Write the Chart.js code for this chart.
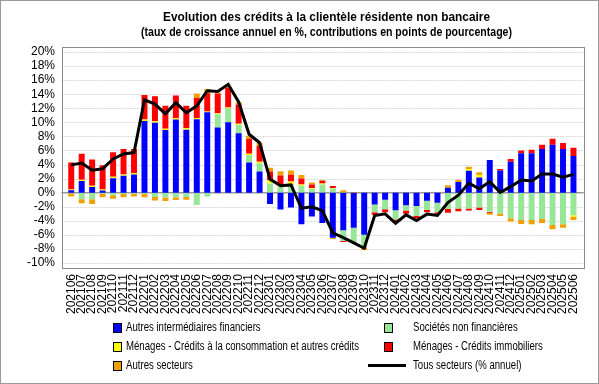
<!DOCTYPE html>
<html>
<head>
<meta charset="utf-8">
<script src="https://cdn.jsdelivr.net/npm/chart.js@4.4.1/dist/chart.umd.min.js"></script>
<style>
  body { margin: 0; background: #fff; }
  #wrap { position: relative; width: 599px; height: 384px; overflow: hidden; }
  #chart { position: absolute; left: 0; top: 0; }
  .title { position: absolute; white-space: nowrap; color: #000; transform-origin: 0 0;
           font-family: "Liberation Sans", Arial, sans-serif; font-weight: bold; }
  .leg { position: absolute; font: 12px "Liberation Sans", Arial, sans-serif; transform-origin: 0 0;
         color: #000; white-space: nowrap; line-height: 14px; }
  .box { position: absolute; width: 7px; height: 8px; border: 1px solid #000; }
  .ln { position: absolute; width: 38px; height: 3px; background: #000; }
</style>
</head>
<body>
<div id="wrap">
  <canvas id="chart" width="599" height="384"></canvas>
  <div class="title" id="t1" style="top:9px;font-size:13px;">Evolution des crédits à la clientèle résidente non bancaire</div>
  <div class="title" id="t2" style="top:25px;font-size:12px;">(taux de croissance annuel en %, contributions en points de pourcentage)</div>
  <div id="legend"></div>
</div>
<script>
/* months on the x axis */
const months = [
  "202106","202107","202108","202109","202110","202111","202112",
  "202201","202202","202203","202204","202205","202206","202207","202208","202209","202210","202211","202212",
  "202301","202302","202303","202304","202305","202306","202307","202308","202309","202310","202311","202312",
  "202401","202402","202403","202404","202405","202406","202407","202408","202409","202410","202411","202412",
  "202501","202502","202503","202504","202505","202506"
];

/* contributions in percentage points */
const autresIF = [
  0.35, 1.65, 0.8, 0.3, 2.05, 2.4, 2.6,
  10.2, 9.95, 8.9, 10.4, 8.95, 10.45, 11.45, 9.25, 10.0, 8.45, 4.3, 3.0,
  -1.6, -2.4, -2.1, -4.5, -3.4, -4.3, -6.4, -5.35, -5.0, -6.0, -1.7, -1.0,
  -2.5, -1.8, -1.9, -1.15, -1.45, 0.7, 1.5, 3.1, 2.15, 4.65, 3.15, 4.4,
  5.6, 5.6, 6.2, 6.8, 6.2, 5.2
];
const snf = [
  -0.1, -0.95, -0.95, -0.15, -0.35, -0.2, -0.15,
  -0.2, -0.6, -0.7, -0.65, -0.6, -1.75, -0.55, 1.9, 2.0, 1.2, 1.05, 1.2,
  1.3, 0.85, 1.25, 1.0, 0.55, 1.15, 0.6, -1.5, -2.1, -1.8, -1.1, -1.35,
  -1.3, -0.75, -1.4, -1.3, -1.35, -2.3, -2.25, -2.25, -2.1, -2.7, -2.95, -3.65,
  -3.9, -3.9, -3.75, -4.6, -4.5, -3.2
];
const menagesConso = [
  0.1, 0.2, 0.2, 0.15, 0.2, 0.2, 0.2,
  0.2, 0.2, 0.2, 0.2, 0.2, 0.15, 0.1, 0.15, 0.1, 0.15, 0.2, 0.2,
  0.45, 0.4, 0.35, 0.15, 0.1, 0.15, 0.05, 0.05, 0, 0, 0, 0,
  0, 0, 0, 0, 0, 0, 0, 0.25, 0.35, 0, 0, 0,
  0, 0, 0, 0, 0, -0.2
];
const menagesImmo = [
  3.85, 3.7, 3.7, 3.45, 3.5, 3.6, 3.4,
  3.5, 3.55, 3.25, 3.2, 3.2, 2.9, 2.6, 2.8, 2.85, 2.75, 2.1, 2.25,
  1.25, 1.2, 0.95, 0.85, 0.5, 0.4, 0.3, -0.15, -0.05, -0.05, -0.35, -0.45,
  -0.3, -0.45, -0.3, -0.35, -0.2, -0.55, -0.4, -0.3, -0.35, -0.15, 0.2, 0.4,
  0.4, 0.5, 0.6, 0.85, 0.85, 1.2
];
const autresSecteurs = [
  -0.45, -0.55, -0.65, -0.5, -0.5, -0.45, -0.4,
  -0.45, -0.5, -0.5, -0.4, -0.4, 0.6, 0.6, 0.15, 0.15, 0.3, 0.45, 0.45,
  0.55, 0.6, 0.6, 0.5, 0.3, 0.1, -0.2, 0.3, 0.1, -0.3, 0, 0,
  -0.1, 0, -0.1, 0, -0.1, 0.35, 0.35, 0.35, 0.4, -0.3, -0.35, -0.45,
  -0.55, -0.6, -0.55, -0.6, -0.5, -0.5
];
/* total growth rate, % */
const tousSecteurs = [
  3.95, 4.2, 3.2, 3.4, 4.8, 5.5, 5.7,
  13.2, 12.6, 11.2, 12.8, 11.35, 12.35, 14.5, 14.4, 15.4, 12.9, 8.3, 7.1,
  1.9, 1.0, 1.1, -2.2, -2.0, -2.55, -5.7, -6.4, -7.15, -7.9, -3.25, -3.0,
  -4.35, -3.15, -3.95, -3.05, -3.25, -1.4, -0.35, 1.35, 0.55, 1.55, 0.05, 0.85,
  1.8, 1.65, 2.65, 2.65, 2.2, 2.6
];

const yTicks = [20, 18, 16, 14, 12, 10, 8, 6, 4, 2, 0, -2, -4, -6, -8, -10];

const colors = {
  blue: "#0000ff",
  green: "#98e698",
  yellow: "#ffff00",
  red: "#ff0000",
  orange: "#f0a000"
};

/* squeeze a text block to a given width (the original uses a narrow font) */
function fitWidth(el, width, centerX) {
  const w = el.getBoundingClientRect().width;
  const k = width / w;
  el.style.transform = `scaleX(${k})`;
  if (centerX !== undefined) el.style.left = (centerX - width / 2) + "px";
  return k;
}
fitWidth(document.getElementById("t1"), 327, 326);
fitWidth(document.getElementById("t2"), 371, 326);

/* legend, two columns like the original */
const legendItems = [
  { label: "Autres intermédiaires financiers", color: colors.blue, x: 113, y: 320 },
  { label: "Sociétés non financières", color: colors.green, x: 384, y: 320 },
  { label: "Ménages - Crédits à la consommation et autres crédits", color: colors.yellow, x: 113, y: 339 },
  { label: "Ménages - Crédits immobiliers", color: colors.red, x: 384, y: 339 },
  { label: "Autres secteurs", color: colors.orange, x: 113, y: 358 },
  { label: "Tous secteurs (% annuel)", line: true, x: 368, y: 358 }
];
const legendEl = document.getElementById("legend");
legendItems.forEach(it => {
  if (it.line) {
    legendEl.insertAdjacentHTML("beforeend",
      `<div class="ln" style="left:${it.x}px;top:${it.y + 6}px"></div>`);
  } else {
    legendEl.insertAdjacentHTML("beforeend",
      `<div class="box" style="left:${it.x}px;top:${it.y + 3}px;background:${it.color}"></div>`);
  }
  const tx = it.x < 300 ? 126 : 413;
  legendEl.insertAdjacentHTML("beforeend",
    `<div class="leg" style="left:${tx}px;top:${it.y}px">${it.label}</div>`);
});
const legTexts = legendEl.querySelectorAll(".leg");
const kLeg = 233 / legTexts[2].getBoundingClientRect().width;
legTexts.forEach(el => { el.style.transform = `scaleX(${kLeg})`; });

/* plot frame, dotted grid, zero line, outer border */
const framePlugin = {
  id: "frame",
  beforeDatasetsDraw(chart) {
    const { ctx, chartArea: a, scales: { y } } = chart;
    const L = a.left - 4.5, R = a.right + 5, T = a.top - 5, B = a.bottom + 5;
    ctx.save();
    ctx.lineWidth = 1;
    ctx.strokeStyle = "#d8d8d8";
    ctx.setLineDash([2, 1]);
    yTicks.forEach(v => {
      if (v === 0) return;
      const py = Math.round(y.getPixelForValue(v)) + 0.5;
      ctx.beginPath(); ctx.moveTo(L, py); ctx.lineTo(R, py); ctx.stroke();
    });
    ctx.setLineDash([]);
    ctx.strokeStyle = "#999";
    ctx.lineWidth = 1.5;
    const py0 = y.getPixelForValue(0);
    ctx.beginPath(); ctx.moveTo(L, py0); ctx.lineTo(R, py0); ctx.stroke();
    ctx.lineWidth = 1;
    ctx.strokeStyle = "#8c8c8c";
    ctx.strokeRect(Math.round(L) + 0.5, Math.round(T) + 0.5, Math.round(R - L), Math.round(B - T));
    ctx.restore();
  },
  afterDraw(chart) {
    const { ctx } = chart;
    ctx.save();
    ctx.strokeStyle = "#9a9a9a";
    ctx.lineWidth = 1;
    ctx.strokeRect(0.5, 0.5, 598, 383);
    ctx.restore();
  }
};

const bar = (label, data, color) => ({
  type: "bar", label, data, backgroundColor: color, borderWidth: 0,
  barPercentage: 0.6, categoryPercentage: 0.95, order: 1
});

const tickFont = { family: "'Liberation Sans', Arial, sans-serif", size: 12 };

new Chart(document.getElementById("chart"), {
  data: {
    labels: months,
    datasets: [
      bar("Autres intermédiaires financiers", autresIF, colors.blue),
      bar("Sociétés non financières", snf, colors.green),
      bar("Ménages - Crédits à la consommation et autres crédits", menagesConso, colors.yellow),
      bar("Ménages - Crédits immobiliers", menagesImmo, colors.red),
      bar("Autres secteurs", autresSecteurs, colors.orange),
      {
        type: "line", label: "Tous secteurs (% annuel)", data: tousSecteurs,
        borderColor: "#000", borderWidth: 3, pointRadius: 0, tension: 0, order: 0
      }
    ]
  },
  options: {
    responsive: false,
    animation: false,
    layout: { padding: { left: 0, right: 13, top: 52, bottom: 61 } },
    plugins: { legend: { display: false }, tooltip: { enabled: false } },
    scales: {
      x: {
        stacked: true,
        offset: true,
        grid: { display: false, drawTicks: false },
        border: { display: false },
        afterFit: s => { s.height = 60; },
        ticks: {
          autoSkip: false, minRotation: 90, maxRotation: 90, padding: 11,
          color: "#000", font: tickFont
        }
      },
      y: {
        stacked: true,
        min: -10, max: 20,
        grid: { display: false, drawTicks: false },
        border: { display: false },
        afterFit: s => { s.width = 66; },
        afterBuildTicks: s => { s.ticks = yTicks.map(v => ({ value: v })); },
        ticks: {
          autoSkip: false, padding: 11, color: "#000", font: tickFont,
          callback: v => v + "%"
        }
      }
    }
  },
  plugins: [framePlugin]
});
</script>
</body>
</html>
